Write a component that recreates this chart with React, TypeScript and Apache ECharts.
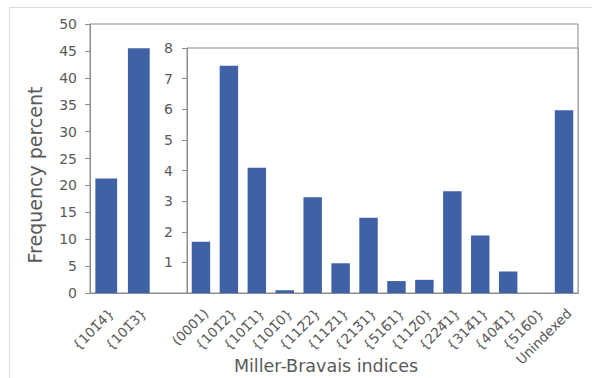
import React, { useEffect, useRef } from "react";
import * as echarts from "echarts";

const OL = "\u0305";
const mainCategories = ["{101" + OL + "4}", "{101" + OL + "3}"];
const mainValues = [21.3, 45.5];
const insetCategories = [
  "(0001)",
  "{101" + OL + "2}",
  "{101" + OL + "1}",
  "{101" + OL + "0}",
  "{112" + OL + "2}",
  "{112" + OL + "1}",
  "{213" + OL + "1}",
  "{516" + OL + "1}",
  "{112" + OL + "0}",
  "{224" + OL + "1}",
  "{314" + OL + "1}",
  "{404" + OL + "1}",
  "{516" + OL + "0}",
  "Unindexed",
];
const insetValues = [1.67, 7.42, 4.09, 0.09, 3.13, 0.97, 2.46, 0.39, 0.43, 3.32, 1.88, 0.7, 0, 5.97];
const yTitle = "Frequency percent";
const xTitle = "Miller-Bravais indices";

const MAIN_SLOTS = 15;
const BAR = "#3F61A5";
const AX = "#8c8c8c";
const TXT = "#595959";
const FONT = "DejaVu Sans, sans-serif";

export default function App() {
  const ref = useRef<HTMLDivElement>(null);
  useEffect(() => {
    if (!ref.current) return;
    const chart = echarts.init(ref.current, undefined, { renderer: "svg" });
    const mainCats = mainCategories.concat(Array(MAIN_SLOTS - mainCategories.length).fill(""));
    const mainData: (number | null)[] = mainValues.concat(
      Array(MAIN_SLOTS - mainValues.length).fill(null)
    );
    const xLabel = {
      rotate: 45,
      fontSize: 13.5,
      color: TXT,
      margin: 13,
      interval: 0,
      fontFamily: FONT,
      verticalAlign: "top",
    };
    chart.setOption({
      animation: false,
      backgroundColor: "#ffffff",
      textStyle: { fontFamily: FONT },
      grid: [
        { left: 90, top: 24, width: 488, height: 269, show: true, borderColor: AX, borderWidth: 1, backgroundColor: "transparent" },
        { left: 187, top: 48, width: 391, height: 245, show: true, borderColor: AX, borderWidth: 1, backgroundColor: "#ffffff" },
      ],
      xAxis: [
        {
          gridIndex: 0,
          type: "category",
          data: mainCats,
          axisLine: { show: true, lineStyle: { color: AX } },
          axisTick: { show: false },
          axisLabel: xLabel,
        },
        {
          gridIndex: 1,
          type: "category",
          data: insetCategories,
          axisLine: { show: true, lineStyle: { color: AX } },
          axisTick: { show: false },
          axisLabel: xLabel,
        },
      ],
      yAxis: [
        {
          gridIndex: 0,
          type: "value",
          min: 0,
          max: 50,
          interval: 5,
          axisLine: { show: true, lineStyle: { color: AX } },
          axisTick: { show: true, inside: false, length: 5, lineStyle: { color: AX } },
          splitLine: { show: false },
          axisLabel: { fontSize: 14, color: TXT, margin: 13, fontFamily: FONT },
        },
        {
          gridIndex: 1,
          type: "value",
          min: 0,
          max: 8,
          interval: 1,
          axisLine: { show: true, lineStyle: { color: AX } },
          axisTick: { show: true, inside: false, length: 5, lineStyle: { color: AX } },
          splitLine: { show: false },
          axisLabel: {
            fontSize: 14,
            color: TXT,
            margin: 14,
            fontFamily: FONT,
            formatter: (v: number) => (v === 0 ? "" : String(v)),
          },
        },
      ],
      series: [
        {
          type: "bar",
          xAxisIndex: 0,
          yAxisIndex: 0,
          data: mainData,
          barCategoryGap: "33%",
          itemStyle: { color: BAR },
        },
        {
          type: "bar",
          xAxisIndex: 1,
          yAxisIndex: 1,
          data: insetValues,
          barCategoryGap: "34%",
          itemStyle: { color: BAR },
        },
      ],
      graphic: [
        { type: "line", shape: { x1: 9, y1: 7.5, x2: 592, y2: 7.5 }, style: { stroke: "#dcdcdc", lineWidth: 1 } },
        { type: "line", shape: { x1: 9.5, y1: 7, x2: 9.5, y2: 378 }, style: { stroke: "#dcdcdc", lineWidth: 1 } },
        {
          type: "text",
          x: 35,
          y: 175,
          rotation: Math.PI / 2,
          style: { text: yTitle, fill: TXT, font: "19px " + FONT, textAlign: "center", textVerticalAlign: "middle" },
        },
        {
          type: "text",
          x: 326,
          y: 366,
          style: { text: xTitle, fill: TXT, font: "17.5px " + FONT, textAlign: "center", textVerticalAlign: "middle" },
        },
      ],
    });
    return () => chart.dispose();
  }, []);
  return (
    <div
      ref={ref}
      style={{ position: "absolute", left: 0, top: 0, width: 592, height: 378 }}
    />
  );
}
